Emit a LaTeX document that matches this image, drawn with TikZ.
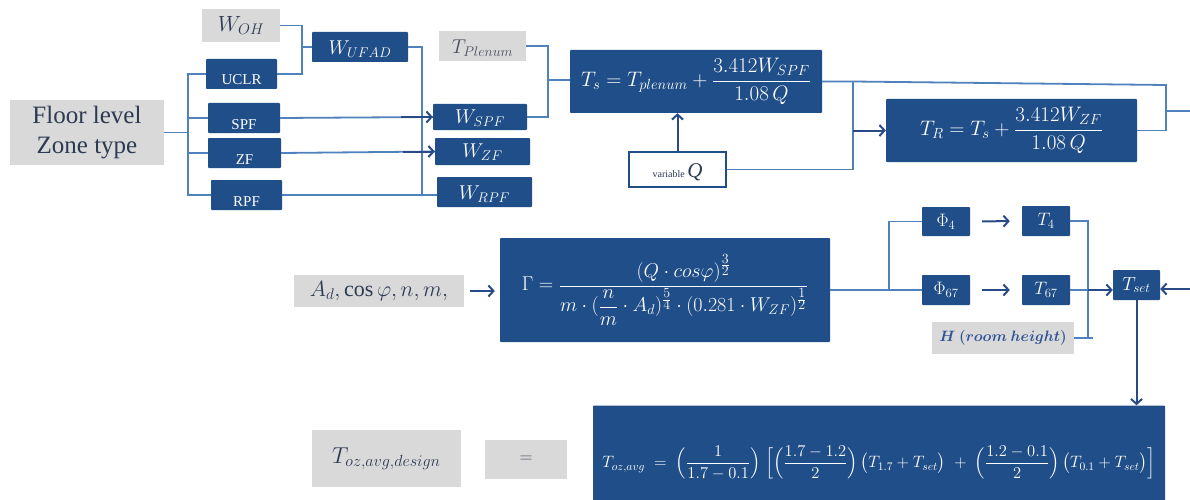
\RequirePackage{fix-cm}
\documentclass[tikz,border=0pt]{standalone}
\usepackage{amsmath}
\usepackage{fontspec}
\setmainfont{Liberation Serif}
\usetikzlibrary{arrows.meta}

\definecolor{boxblue}{RGB}{31,78,137}
\definecolor{linkblue}{RGB}{79,129,189}
\definecolor{arrowblue}{RGB}{40,75,135}
\definecolor{panelgray}{RGB}{217,217,217}
\definecolor{inkgray}{RGB}{45,58,82}
\definecolor{plenumgray}{RGB}{72,80,95}
\definecolor{hblue}{RGB}{47,84,150}

% lower a label inside its box without changing the box size
\newcommand{\lowtext}[2]{\raisebox{-#1}[\height][\depth]{#2}}
\newcommand{\fs}[1]{\fontsize{#1}{#1}\selectfont}
% fractional exponent with script-size digits
\newcommand{\pw}[2]{\frac{\scriptstyle #1}{\scriptstyle #2}}

\tikzset{
  blk/.style={fill=boxblue, text=white, inner sep=0pt, rounded corners=0.8pt},
  gry/.style={fill=panelgray, text=inkgray, inner sep=0pt},
  sz/.style 2 args={minimum width=#1pt, minimum height=#2pt},
  conn/.style={draw=linkblue, line width=1.8pt},
  arr/.style={draw=arrowblue, line width=2pt, -{Straight Barb[length=5pt,width=11pt]}},
}

\begin{document}
\begin{tikzpicture}[x=1pt, y=-1pt]
\useasboundingbox (0,0) rectangle (1190,500);
\fill[white] (0,0) rectangle (1190,500);
\clip (0,0) rectangle (1190,500);

% ---------- upper chain: zone split and loads ----------
\node[gry, sz={154}{65}, align=center, font=\fontsize{25}{30}\selectfont] (floor) at (87,132.5) {Floor level\\Zone type};
\node[gry, sz={78}{33}, font=\fs{22}] (woh) at (241,25.5) {$W_{OH}$};
\node[blk, sz={71}{30}, font=\fs{15}] (uclr) at (241.5,74) {\lowtext{6pt}{UCLR}};
\node[blk, sz={72}{30}, font=\fs{15}] (spf) at (244,118) {\lowtext{7pt}{SPF}};
\node[blk, sz={73}{30}, font=\fs{15}] (zf) at (244.5,153) {\lowtext{7pt}{ZF}};
\node[blk, sz={71}{30}, font=\fs{15}] (rpf) at (246.5,195) {\lowtext{7pt}{RPF}};

\node[blk, sz={96}{30}, font=\fs{20}] (wufad) at (360,47) {\lowtext{2pt}{$W_{UFAD}$}};
\node[gry, sz={87}{30}, font=\fs{20}, text=plenumgray] (tplen) at (482.5,46) {\lowtext{2pt}{$T_{Plenum}$}};
\node[blk, sz={94}{26}, font=\fs{20}] (wspf) at (480,117) {\lowtext{1pt}{$W_{SPF}$}};
\node[blk, sz={95}{27}, font=\fs{20}] (wzf) at (482.5,151.5) {\lowtext{1pt}{$W_{ZF}$}};
\node[blk, sz={95}{30}, font=\fs{20}] (wrpf) at (484.5,192) {\lowtext{2pt}{$W_{RPF}$}};

\node[blk, sz={252}{63}, font=\fs{21}] (ts) at (696,81.5) {$T_s = T_{plenum} + \dfrac{3.412W_{SPF}}{1.08\,Q}$};
\node[fill=white, draw=boxblue, line width=1.5pt, inner sep=0pt, sz={97}{35}, text=inkgray] (varq) at (677.5,169.5)
  {\lowtext{3pt}{{\fs{10}variable} {\fs{21}\itshape Q}}};
\node[blk, sz={251}{63}, font=\fs{21}] (tr) at (1011.5,130.5) {$T_R = T_s + \dfrac{3.412W_{ZF}}{1.08\,Q}$};

% ---------- middle chain: throw ratio and set point ----------
\node[gry, sz={170}{32}, font=\fs{22}] (ad) at (379,291) {$A_d, \cos\varphi, n, m,$};
\node[blk, sz={330}{104}, font=\fs{20}] (gamma) at (665,290)
  {$\Gamma = \dfrac{(Q\cdot cos\varphi)^{\pw{3}{2}}}{m\cdot(\dfrac{n}{m}\cdot A_d)^{\pw{5}{4}}\cdot(0.281\cdot W_{ZF})^{\pw{1}{2}}}$};
\node[blk, sz={48}{29}, font=\fs{18}] (phi4) at (946,221.5) {$\Phi_4$};
\node[blk, sz={48}{30}, font=\fs{18}] (phi67) at (946,290) {$\Phi_{67}$};
\node[blk, sz={48}{30}, font=\fs{18}] (t4) at (1046,221) {$T_4$};
\node[blk, sz={48}{30}, font=\fs{18}] (t67) at (1046,290) {$T_{67}$};
\node[gry, sz={142}{32}, font=\fs{15}, text=hblue] (hroom) at (1003,338) {$\boldsymbol{H\ (room\ height)}$};
\node[blk, sz={47}{30}, font=\fs{19}] (tset) at (1136.5,285) {$T_{set}$};

% ---------- lower row: occupied-zone average ----------
\node[gry, sz={149}{57}, font=\fs{23}] (toz) at (386.5,458.5) {$T_{oz,avg,design}$};
\node[gry, sz={82}{39}, font=\fs{18}, text=plenumgray] (eq) at (526,459.5) {$=$};
\node[blk, sz={572}{115}, font=\fs{16.5}] (bottom) at (879,463)
  {$T_{oz,avg} \;=\; \Bigl(\dfrac{1}{1.7-0.1}\Bigr)\;\Bigl[\Bigl(\dfrac{1.7-1.2}{2}\Bigr)\,\bigl(T_{1.7}+T_{set}\bigr) \;+\; \Bigl(\dfrac{1.2-0.1}{2}\Bigr)\,\bigl(T_{0.1}+T_{set}\bigr)\Bigr]$};

% ---------- connectors ----------
\coordinate (j1) at (188,132.5);
\draw[conn] (floor.east) -- (j1);
\draw[conn] (j1) |- (uclr.west);
\draw[conn] (j1) |- (spf.west);
\draw[conn] (j1) |- (zf.west);
\draw[conn] (j1) |- (rpf.west);

\coordinate (j2) at (302,47);
\draw[conn] (woh.east) -| (j2);
\draw[conn] (uclr.east) -| (j2);
\draw[conn] (j2) -- (wufad.west);

\coordinate (j3) at (422,195);
\draw[conn] (wufad.east) -| (j3);
\draw[conn] (rpf.east) -- (rpf.east -| wrpf.west);

\draw[conn] (spf.east) -- (wspf.west);
\draw[arr] (wspf.west) ++(-32,0) -- (wspf.west);
\draw[conn] (zf.east) -- (wzf.west);
\draw[arr] (wzf.west) ++(-32,0) -- (wzf.west);

\coordinate (j4) at (548,80);
\draw[conn] (tplen.east) -| (j4);
\draw[conn] (wspf.east) -| (j4);
\draw[conn] (j4) -- (j4 -| ts.west);

\draw[arr] (varq.north) -- (varq.north |- ts.south);

\coordinate (j5) at (853,81.5);
\coordinate (j6) at (1166,85);
\coordinate (j7) at (1166,111);
\coordinate (out1) at (1190,111);
\draw[conn] (ts.east) -- (j5) -- (j6) -- (j7) -- (out1);
\draw[conn] (varq.east) -| (j5);
\draw[arr] (j5 |- tr.west) -- (tr.west);
\draw[conn] (tr.east) -| (j7);

\draw[arr, shorten <=6pt, shorten >=5pt] (ad.east) -- (ad.east -| gamma.west);
\coordinate (j8) at (889,290);
\draw[conn] (gamma.east) -- (phi67.west);
\draw[conn] (j8) |- (phi4.west);
\draw[arr, shorten <=12pt, shorten >=12pt] (phi4.east) -- (t4.west);
\draw[arr, shorten <=12pt, shorten >=12pt] (phi67.east) -- (t67.west);

\coordinate (j9) at (1088,338);
\coordinate (j10) at (1093,338);
\draw[conn] (t4.east) -| (j9);
\draw[conn] (hroom.east) -- (j10);
\draw[conn] (t67.east) -- (t67.east -| j9);
\draw[arr] (t67.east -| j9) -- (t67.east -| tset.west);
\coordinate (in2) at (1190,289);
\draw[arr] (in2) -- (in2 -| tset.east);
\draw[arr] (tset.south) -- (tset.south |- bottom.north);
\end{tikzpicture}
\end{document}
